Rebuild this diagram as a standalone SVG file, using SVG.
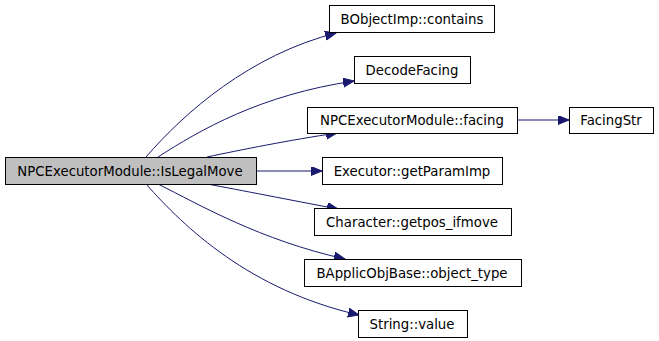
<svg xmlns="http://www.w3.org/2000/svg" width="659" height="341" viewBox="0 0 659 341">
<style>
.n rect{fill:#fff;stroke:#000;stroke-width:1}
.n.main rect{fill:#bfbfbf}
.n text{font-family:"DejaVu Sans",sans-serif;font-size:13.3px;text-anchor:middle;fill:#000}
.e path{fill:none;stroke:#191970;stroke-width:1;marker-end:url(#ah)}
</style>
<defs>
<marker id="ah" markerUnits="userSpaceOnUse" markerWidth="12" markerHeight="10" refX="11" refY="4.5" orient="auto">
<path d="M0,0 L11,4.5 L0,9 Z" fill="#191970" stroke="#191970" stroke-width="1"/>
</marker>
</defs>
<rect width="659" height="341" fill="#fff"/>
<g class="e" id="edges">
<path d="M146,157 C185,112 250,55 336,33"/>
<path d="M158,157 C200,130 260,95 354,81"/>
<path d="M207,157 C240,150 290,140 337,133"/>
<path d="M256,171 L322,171"/>
<path d="M207,184 C240,190 290,200 338,209"/>
<path d="M158,184 C200,205 260,240 345,259"/>
<path d="M146,184 C185,228 250,290 359,315"/>
<path d="M517,120 L569,120"/>
</g>
<g class="n main" id="n0"><rect x="5.5" y="157.5" width="251" height="27"/><text x="130" y="175.5">NPCExecutorModule::IsLegalMove</text></g>
<g class="n" id="n1"><rect x="329.5" y="5.5" width="165" height="27"/><text x="412" y="23.5">BObjectImp::contains</text></g>
<g class="n" id="n2"><rect x="354.5" y="56.5" width="116" height="27"/><text x="412" y="74.5">DecodeFacing</text></g>
<g class="n" id="n3"><rect x="307.5" y="107.5" width="210" height="26"/><text x="412" y="125">NPCExecutorModule::facing</text></g>
<g class="n" id="n4"><rect x="569.5" y="107.5" width="84" height="26"/><text x="611" y="125">FacingStr</text></g>
<g class="n" id="n5"><rect x="322.5" y="157.5" width="180" height="27"/><text x="412" y="175.5">Executor::getParamImp</text></g>
<g class="n" id="n6"><rect x="314.5" y="208.5" width="197" height="27"/><text x="412" y="226.5">Character::getpos_ifmove</text></g>
<g class="n" id="n7"><rect x="304.5" y="259.5" width="217" height="27"/><text x="412" y="277.5">BApplicObjBase::object_type</text></g>
<g class="n" id="n8"><rect x="358.5" y="310.5" width="109" height="27"/><text x="412" y="328.5">String::value</text></g>
</svg>
